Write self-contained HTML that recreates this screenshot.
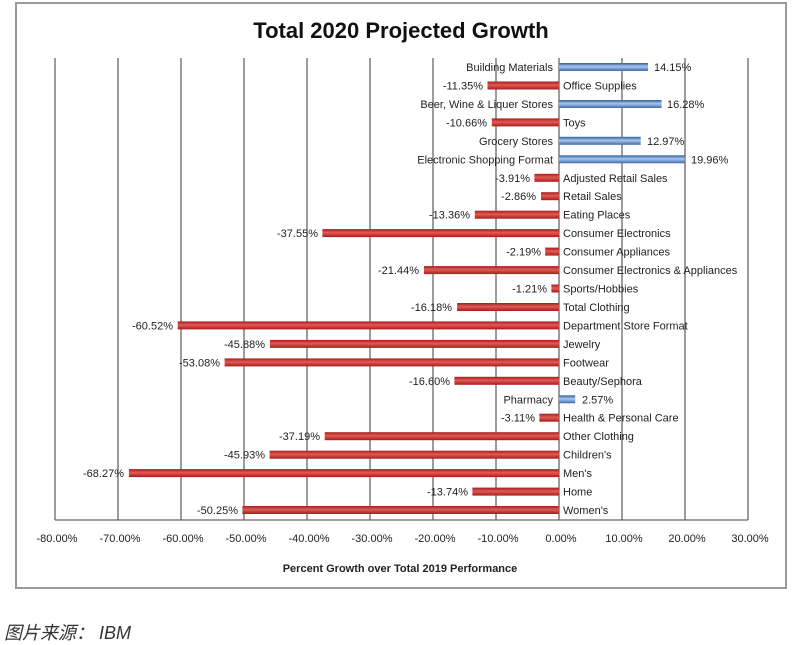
<!DOCTYPE html>
<html><head><meta charset="utf-8"><style>
body{margin:0;background:#fff;width:800px;height:645px;overflow:hidden}
svg{display:block}
text{font-family:"Liberation Sans",sans-serif;fill:#222}
.c{font-size:11px}
.v{font-size:11px}
</style></head><body>
<svg width="800" height="645" viewBox="0 0 800 645">
<defs>
<linearGradient id="b" x1="0" y1="0" x2="0" y2="1"><stop offset="0" stop-color="#2f5f9e"/><stop offset="0.45" stop-color="#a9c6ea"/><stop offset="1" stop-color="#3c6cb0"/></linearGradient>
<linearGradient id="r" x1="0" y1="0" x2="0" y2="1"><stop offset="0" stop-color="#a51d1d"/><stop offset="0.45" stop-color="#e15a55"/><stop offset="1" stop-color="#a81c1c"/></linearGradient>
</defs>
<rect x="16" y="3" width="770" height="585" fill="#fff" stroke="#9a9a9a" stroke-width="2"/>
<text x="401" y="38" text-anchor="middle" style="font-size:22px;font-weight:bold;fill:#111">Total 2020 Projected Growth</text>
<g stroke="#666" stroke-width="1.3">
<line x1="55" y1="58" x2="55" y2="520"/><line x1="118" y1="58" x2="118" y2="520"/><line x1="181" y1="58" x2="181" y2="520"/><line x1="244" y1="58" x2="244" y2="520"/><line x1="307" y1="58" x2="307" y2="520"/><line x1="370" y1="58" x2="370" y2="520"/><line x1="433" y1="58" x2="433" y2="520"/><line x1="496" y1="58" x2="496" y2="520"/><line x1="559" y1="58" x2="559" y2="520"/><line x1="622" y1="58" x2="622" y2="520"/><line x1="685" y1="58" x2="685" y2="520"/><line x1="748" y1="58" x2="748" y2="520"/>
<line x1="55" y1="520" x2="748" y2="520"/>
</g>
<g>
<rect x="559" y="63" width="89" height="8" fill="url(#b)"/>
<rect x="487.5" y="81.5" width="71.5" height="8" fill="url(#r)"/>
<rect x="559" y="100" width="102.6" height="8" fill="url(#b)"/>
<rect x="491.8" y="118.4" width="67.2" height="8" fill="url(#r)"/>
<rect x="559" y="136.8" width="81.7" height="8" fill="url(#b)"/>
<rect x="559" y="155.3" width="125.7" height="8" fill="url(#b)"/>
<rect x="534.4" y="173.8" width="24.6" height="8" fill="url(#r)"/>
<rect x="541" y="192.2" width="18" height="8" fill="url(#r)"/>
<rect x="474.8" y="210.7" width="84.2" height="8" fill="url(#r)"/>
<rect x="322.4" y="229.1" width="236.6" height="8" fill="url(#r)"/>
<rect x="545.2" y="247.6" width="13.8" height="8" fill="url(#r)"/>
<rect x="423.9" y="266.1" width="135.1" height="8" fill="url(#r)"/>
<rect x="551.4" y="284.5" width="7.6" height="8" fill="url(#r)"/>
<rect x="457.1" y="303" width="101.9" height="8" fill="url(#r)"/>
<rect x="177.7" y="321.4" width="381.3" height="8" fill="url(#r)"/>
<rect x="270" y="339.9" width="289" height="8" fill="url(#r)"/>
<rect x="224.6" y="358.4" width="334.4" height="8" fill="url(#r)"/>
<rect x="454.4" y="376.8" width="104.6" height="8" fill="url(#r)"/>
<rect x="559" y="395.3" width="16.2" height="8" fill="url(#b)"/>
<rect x="539.4" y="413.7" width="19.6" height="8" fill="url(#r)"/>
<rect x="324.7" y="432.2" width="234.3" height="8" fill="url(#r)"/>
<rect x="269.6" y="450.7" width="289.4" height="8" fill="url(#r)"/>
<rect x="128.9" y="469.1" width="430.1" height="8" fill="url(#r)"/>
<rect x="472.4" y="487.6" width="86.6" height="8" fill="url(#r)"/>
<rect x="242.4" y="506" width="316.6" height="8" fill="url(#r)"/>
</g>
<g class="c">
<text x="553" y="71" text-anchor="end">Building Materials</text>
<text x="563" y="89.5">Office Supplies</text>
<text x="553" y="108" text-anchor="end">Beer, Wine &amp; Liquer Stores</text>
<text x="563" y="126.4">Toys</text>
<text x="553" y="144.8" text-anchor="end">Grocery Stores</text>
<text x="553" y="163.3" text-anchor="end">Electronic Shopping Format</text>
<text x="563" y="181.8">Adjusted Retail Sales</text>
<text x="563" y="200.2">Retail Sales</text>
<text x="563" y="218.7">Eating Places</text>
<text x="563" y="237.1">Consumer Electronics</text>
<text x="563" y="255.6">Consumer Appliances</text>
<text x="563" y="274.1">Consumer Electronics &amp; Appliances</text>
<text x="563" y="292.5">Sports/Hobbies</text>
<text x="563" y="311">Total Clothing</text>
<text x="563" y="329.4">Department Store Format</text>
<text x="563" y="347.9">Jewelry</text>
<text x="563" y="366.4">Footwear</text>
<text x="563" y="384.8">Beauty/Sephora</text>
<text x="553" y="403.3" text-anchor="end">Pharmacy</text>
<text x="563" y="421.7">Health &amp; Personal Care</text>
<text x="563" y="440.2">Other Clothing</text>
<text x="563" y="458.7">Children's</text>
<text x="563" y="477.1">Men's</text>
<text x="563" y="495.6">Home</text>
<text x="563" y="514">Women's</text>
</g>
<g class="v">
<text x="654" y="71">14.15%</text>
<text x="483" y="89.5" text-anchor="end">-11.35%</text>
<text x="667" y="108">16.28%</text>
<text x="487" y="126.4" text-anchor="end">-10.66%</text>
<text x="647" y="144.8">12.97%</text>
<text x="691" y="163.3">19.96%</text>
<text x="530" y="181.8" text-anchor="end">-3.91%</text>
<text x="536" y="200.2" text-anchor="end">-2.86%</text>
<text x="470" y="218.7" text-anchor="end">-13.36%</text>
<text x="318" y="237.1" text-anchor="end">-37.55%</text>
<text x="541" y="255.6" text-anchor="end">-2.19%</text>
<text x="419" y="274.1" text-anchor="end">-21.44%</text>
<text x="547" y="292.5" text-anchor="end">-1.21%</text>
<text x="452" y="311" text-anchor="end">-16.18%</text>
<text x="173" y="329.4" text-anchor="end">-60.52%</text>
<text x="265" y="347.9" text-anchor="end">-45.88%</text>
<text x="220" y="366.4" text-anchor="end">-53.08%</text>
<text x="450" y="384.8" text-anchor="end">-16.60%</text>
<text x="582" y="403.3">2.57%</text>
<text x="535" y="421.7" text-anchor="end">-3.11%</text>
<text x="320" y="440.2" text-anchor="end">-37.19%</text>
<text x="265" y="458.7" text-anchor="end">-45.93%</text>
<text x="124" y="477.1" text-anchor="end">-68.27%</text>
<text x="468" y="495.6" text-anchor="end">-13.74%</text>
<text x="238" y="514" text-anchor="end">-50.25%</text>
</g>
<g style="font-size:11px" text-anchor="middle">
<text x="57" y="542">-80.00%</text><text x="120" y="542">-70.00%</text><text x="183" y="542">-60.00%</text><text x="246" y="542">-50.00%</text><text x="309" y="542">-40.00%</text><text x="372" y="542">-30.00%</text><text x="435" y="542">-20.00%</text><text x="498" y="542">-10.00%</text><text x="561" y="542">0.00%</text><text x="624" y="542">10.00%</text><text x="687" y="542">20.00%</text><text x="750" y="542">30.00%</text>
</g>
<text x="400" y="572" text-anchor="middle" style="font-size:11px;font-weight:bold">Percent Growth over Total 2019 Performance</text>
<text x="4" y="639" style="font-family:'Liberation Sans','Noto Sans CJK SC',sans-serif;font-size:18px;font-style:italic;fill:#333">图片来源： IBM</text>
</svg>
</body></html>
